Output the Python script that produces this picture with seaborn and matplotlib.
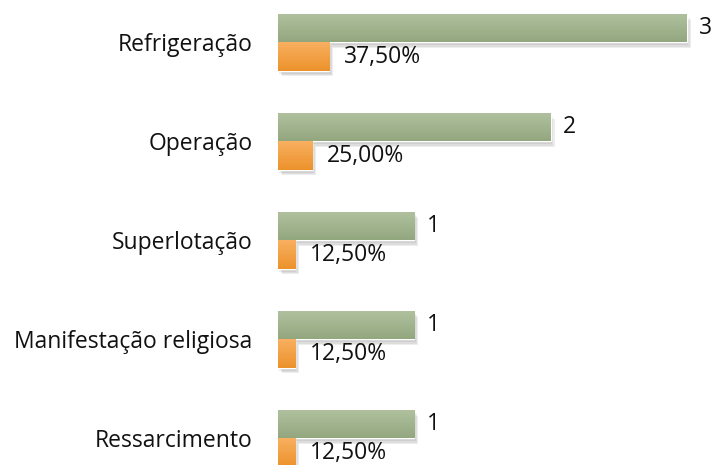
import matplotlib
matplotlib.use('Agg')
import matplotlib.pyplot as plt
import matplotlib.patheffects as pe
import matplotlib.transforms as mtransforms
from matplotlib.colors import LinearSegmentedColormap
import numpy as np
import seaborn as sns
import pandas as pd

# dados do gráfico
categorias = ['Refrigeração', 'Operação', 'Superlotação',
              'Manifestação religiosa', 'Ressarcimento']
quantidade = [3, 2, 1, 1, 1]
percentual = [0.375, 0.25, 0.125, 0.125, 0.125]

df = pd.DataFrame({
    'categoria': categorias * 2,
    'valor': quantidade + percentual,
    'serie': ['Quantidade'] * len(categorias) + ['Percentual'] * len(categorias),
})

sns.set_theme(style="white")
plt.rcParams['font.family'] = ['Open Sans', 'DejaVu Sans']

fig = plt.figure(figsize=(7.15, 4.65), dpi=100)
ax = fig.add_axes([278 / 715, 0, 437 / 715, 1])

sns.barplot(data=df, y='categoria', x='valor', hue='serie', orient='h',
            palette={'Quantidade': '#A2B48E', 'Percentual': '#F5A142'},
            width=0.573, gap=0, dodge=True, saturation=1, legend=False, ax=ax)

xlim = (0, 437 / 136.3)
ylim = (4.268, -0.429)

# sombra suave + degradê vertical nas barras
sombra = [pe.SimplePatchShadow(offset=(o, -o - 1), shadow_rgbFace='#555555', alpha=0.10)
          for o in (3, 2, 1)]
degrade = [LinearSegmentedColormap.from_list('g', ['#B1C19F', '#93A77F']),
           LinearSegmentedColormap.from_list('o', ['#F9B060', '#EC922C'])]
grad = np.linspace(0, 1, 64).reshape(-1, 1)
for cont, cmap in zip(ax.containers, degrade):
    for bar in cont:
        bar.set_path_effects(sombra + [pe.Normal()])
        x0, y0 = bar.get_x(), bar.get_y()
        w, h = bar.get_width(), bar.get_height()
        im = ax.imshow(grad, cmap=cmap, aspect='auto', interpolation='bilinear',
                       extent=(x0, x0 + w, y0 + h, y0), origin='upper', zorder=bar.get_zorder() + 0.1)
        im.set_clip_path(bar)

fs = 16.5
ax.bar_label(ax.containers[0], labels=[str(q) for q in quantidade],
             padding=9, fontsize=fs, color='#111111')
rotulos = ax.bar_label(ax.containers[1],
                       labels=[f"{p * 100:.2f}".replace('.', ',') + '%' for p in percentual],
                       padding=11, fontsize=fs, color='#111111')
# rótulos de percentual um pouco abaixo do centro da barra
desloc = mtransforms.ScaledTranslation(0, -2 / 100, fig.dpi_scale_trans)
for t in rotulos:
    t.set_transform(t.get_transform() + desloc)

ax.set_xlim(*xlim)
ax.set_ylim(*ylim)
ax.set_xlabel('')
ax.set_ylabel('')
ax.set_xticks([])
ax.tick_params(axis='y', length=0, pad=18.5, labelsize=fs, labelcolor='#111111')
sns.despine(ax=ax, left=True, bottom=True)

fig.savefig('out.png', dpi=100)
plt.close(fig)
